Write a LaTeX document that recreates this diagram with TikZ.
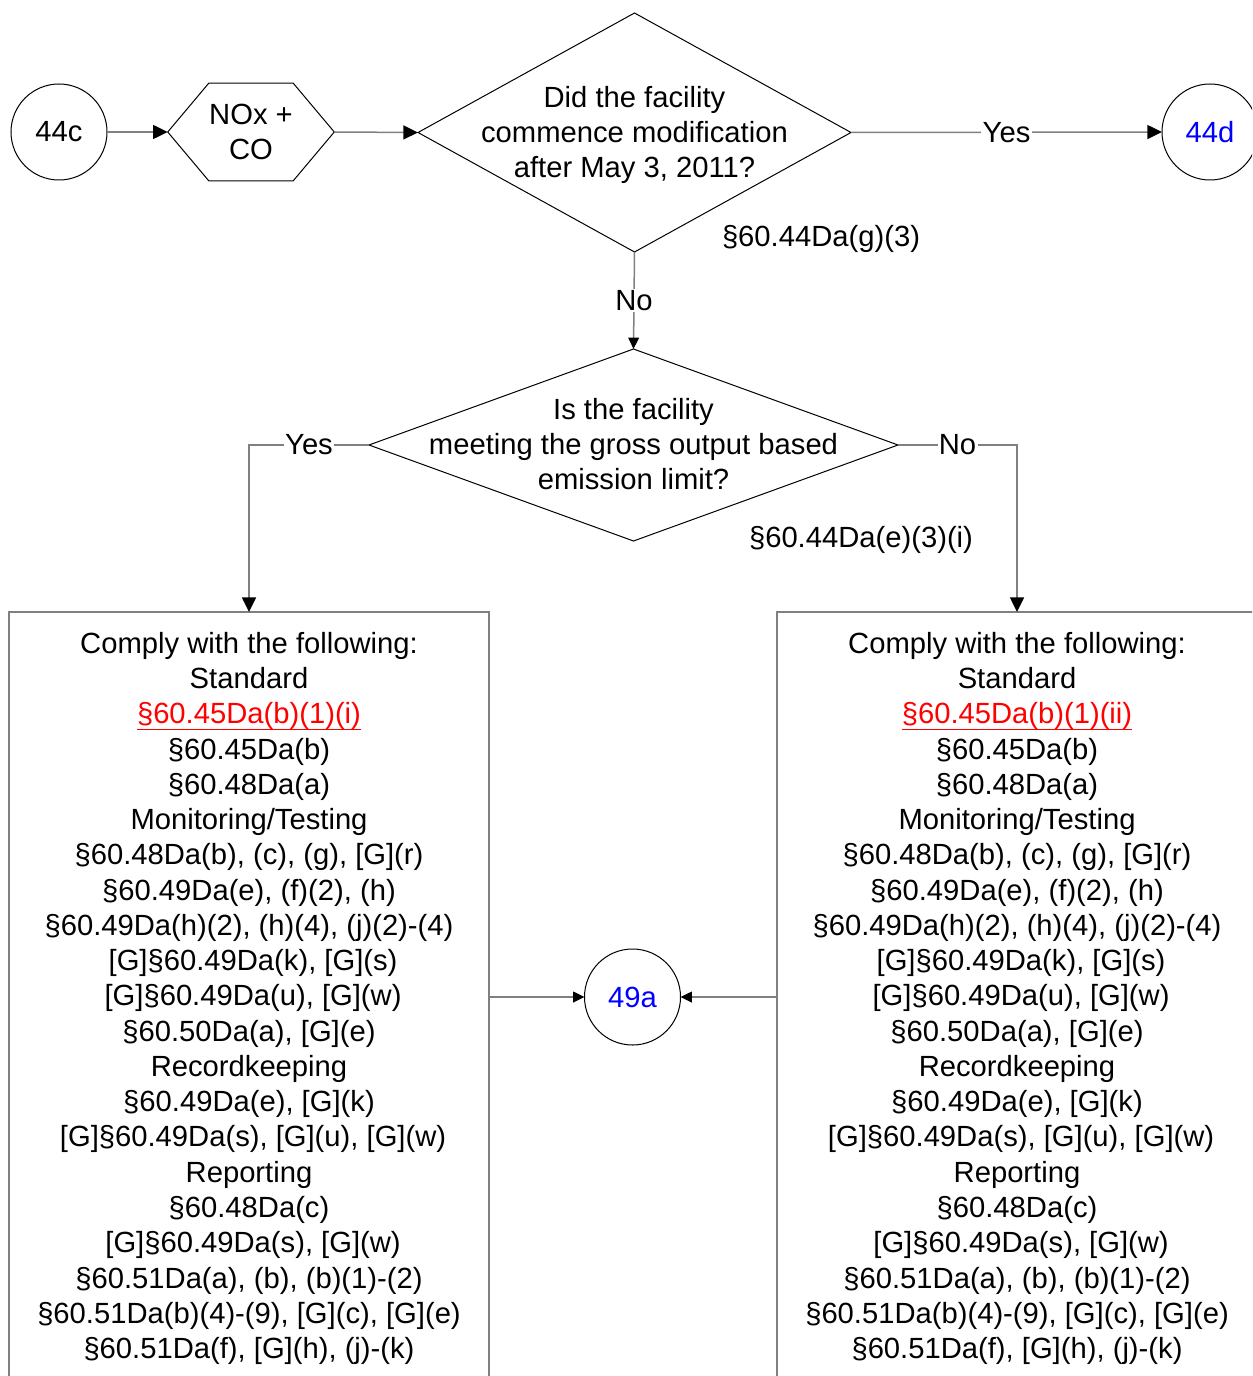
\documentclass[tikz,border=0pt]{standalone}
\usepackage{fontspec}
\setmainfont{Liberation Sans}
\usetikzlibrary{arrows.meta,shapes.geometric}
\newdimen\pxu \pxu=0.75pt
\definecolor{lnk}{RGB}{0,0,255}
\definecolor{reg}{RGB}{255,0,0}
\definecolor{lgray}{RGB}{128,128,128}
\newcommand{\fsz}{\fontsize{21.9}{26.44}\selectfont}
\newcommand{\ulred}[1]{\textcolor{reg}{\setbox0=\hbox{#1}\vtop{\copy0\kern-0.6pt\hrule height 0.9pt width \wd0}}}
\newcommand{\boxtext}[1]{Comply with the following:\\
Standard\\
\ulred{#1}\\
§60.45Da(b)\\
§60.48Da(a)\\
Monitoring/Testing\\
§60.48Da(b), (c), (g), [G](r)\\
§60.49Da(e), (f)(2), (h)\\
§60.49Da(h)(2), (h)(4), (j)(2)-(4)\\{}
[G]§60.49Da(k), [G](s)\\{}
[G]§60.49Da(u), [G](w)\\
§60.50Da(a), [G](e)\\
Recordkeeping\\
§60.49Da(e), [G](k)\\{}
[G]§60.49Da(s), [G](u), [G](w)\\
Reporting\\
§60.48Da(c)\\{}
[G]§60.49Da(s), [G](w)\\
§60.51Da(a), (b), (b)(1)-(2)\\
§60.51Da(b)(4)-(9), [G](c), [G](e)\\
§60.51Da(f), [G](h), (j)-(k)}
\begin{document}
\begin{tikzpicture}[x=0.75pt,y=-0.75pt,
  txt/.style={font=\fsz, align=center, inner sep=0pt},
  circ/.style={circle, draw=black, line width=0.75pt, minimum size=96\pxu, inner sep=0pt, outer sep=0pt, font=\fsz},
  dia/.style={diamond, draw=black, line width=0.75pt, inner sep=0pt, outer sep=0pt},
  bigbox/.style={draw=lgray, line width=1.125pt, minimum width=480\pxu, minimum height=800\pxu, inner sep=0pt, outer sep=0pt, anchor=north},
  conn/.style={draw=lgray, line width=1.125pt, -{Triangle[length=11pt, width=10.5pt, color=black]}},
  connsm/.style={draw=lgray, line width=1.125pt, -{Triangle[length=8.5pt, width=8pt, color=black]}},
  lbl/.style={fill=white, inner sep=1pt, font=\fsz}
]
\useasboundingbox (0,0) rectangle (1252,1376);
\clip (0,0) rectangle (1252,1376);

% top row
\node[circ] (c44c) at (59,132) {44c};
\node[txt, minimum width=166\pxu, minimum height=97\pxu] (hx) at (251,132) {NOx +\\CO};
\draw[black, line width=0.75pt] (hx.west) -- ([xshift=41\pxu]hx.north west) -- ([xshift=-41\pxu]hx.north east) -- (hx.east) -- ([xshift=-41\pxu]hx.south east) -- ([xshift=41\pxu]hx.south west) -- cycle;

\node[dia, minimum width=433\pxu, minimum height=239\pxu] (d1) at (634.5,132.5) {};
\node[txt] (d1t) at (634.5,135) {Did the facility\\commence modification\\after May 3, 2011?};
\node[circ, text=lnk] (c44d) at (1210,132) {44d};
\node[txt] (s1) at (821,239) {§60.44Da(g)(3)};

% second decision
\node[dia, minimum width=529\pxu, minimum height=192\pxu] (d2) at (633.5,445) {};
\node[txt] (d2t) at (633.5,444) {Is the facility\\meeting the gross output based\\emission limit?};
\node[txt] (s2) at (861,540) {§60.44Da(e)(3)(i)};

% boxes
\node[bigbox] (lbox) at (249,612) {};
\node[bigbox] (rbox) at (1017,612) {};
\node[txt, anchor=north] (ltext) at (249,632) {\boxtext{§60.45Da(b)(1)(i)}};
\node[txt, anchor=north] (rtext) at (1017,632) {\boxtext{§60.45Da(b)(1)(ii)}};

\node[circ, text=lnk] (c49a) at (632.5,997) {49a};

% connectors
\draw[conn] (c44c.east) -- (hx.west);
\draw[conn] (hx.east) -- (d1.west);
\draw[conn] (d1.east) -- node[lbl] {Yes} (c44d.west);
\draw[connsm] (d1.south) -- node[lbl] {No} (d2.north);
\draw[conn] (d2.west) -| node[lbl, pos=0.25] {Yes} (lbox.north);
\draw[conn] (d2.east) -| node[lbl, pos=0.25] {No} (rbox.north);
\draw[connsm] (lbox.east |- c49a) -- (c49a.west);
\draw[connsm] (rbox.west |- c49a) -- (c49a.east);
\end{tikzpicture}
\end{document}
